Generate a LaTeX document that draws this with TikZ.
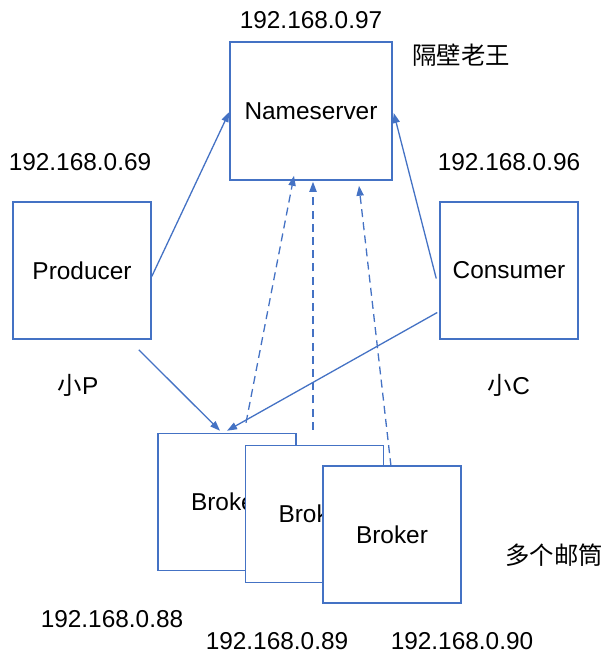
\documentclass[tikz,border=0pt]{standalone}
\usepackage{fontspec}
\setmainfont{Liberation Sans}
\newfontfamily\cjk{Noto Sans CJK SC}
\usetikzlibrary{arrows.meta}
\definecolor{lineblue}{HTML}{4472C4}
\tikzset{boxnode/.style = {draw=lineblue, line width=.75pt, fill=white, inner sep=0pt,
        minimum width=69pt, minimum height=68.5pt, font=\fontsize{12.2}{14}\selectfont}}
\tikzset{txt/.style = {inner sep=0pt, font=\fontsize{12.2}{14}\selectfont}}
\tikzset{link/.style = {lineblue, line width=.65pt, -{Triangle[length=5pt,width=3.6pt]}}}
\tikzset{reglink/.style = {link, dash pattern=on 4pt off 2.6pt}}

\begin{document}
\begin{tikzpicture} [x=.5pt, y=-.5pt]
    \useasboundingbox (0,0) rectangle (614,665);
    % boxes
    \node[boxnode, minimum width=81pt, minimum height=69pt] (ns) at (311,111) {Nameserver};
    \node[boxnode] (prod) at (82,270.5) {Producer};
    \node[boxnode] (cons) at (509,270.5) {Consumer};
    \foreach \i/\x/\y in {1/227/502, 2/314.5/514, 3/392/534.5} {
    \node[boxnode] (b\i) at (\x,\y) {Broker};
    }
    % labels
    \node[txt] (ip97) at (311,20) {192.168.0.97};
    \node[txt] (wang) at (461,55) {\cjk 隔壁老王};
    \node[txt] (ip69) at (80,162) {192.168.0.69};
    \node[txt] (ip96) at (509,162) {192.168.0.96};
    \node[txt] (xp) at (78,385) {{\cjk 小}P};
    \node[txt] (xc) at (509,385) {{\cjk 小}C};
    \node[txt] (many) at (554,555) {\cjk 多个邮筒};
    \node[txt] (ip88) at (112,619) {192.168.0.88};
    \node[txt] (ip89) at (277,641) {192.168.0.89};
    \node[txt] (ip90) at (462,641) {192.168.0.90};
    % send and pull
    \draw[link] ([shift={(0,6)}]prod.east) -- ([shift={(0,1)}]ns.west);
    \draw[link] ([shift={(-3,8)}]cons.west) -- ([shift={(1,2)}]ns.east);
    \draw[link] ([shift={(-13,10)}]prod.south east) -- ([shift={(-7,-2)}]b1.north);
    \draw[link] ([shift={(-2,42)}]cons.west) -- ([shift={(0,-2)}]b1.north);
    % register
    \draw[reglink] ([shift={(19,-10)}]b1.north) -- ([shift={(-17,-5)}]ns.south);
    \draw[reglink] ([shift={(-1.5,-15)}]b2.north) -- ([shift={(2,1)}]ns.south);
    \draw[reglink] ([shift={(-1,1)}]b3.north) -- ([shift={(48,5)}]ns.south);
\end{tikzpicture}
\end{document}
